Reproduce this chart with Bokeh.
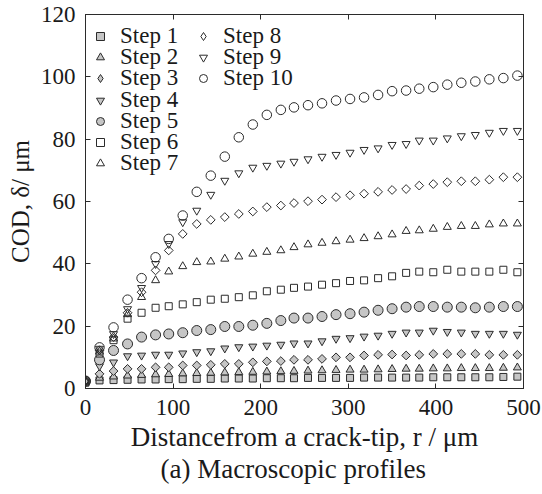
import math
from bokeh.plotting import figure
from bokeh.models import Range1d, LinearAxis, FixedTicker, Legend, LegendItem, Title
from bokeh.embed import file_html
from bokeh.resources import INLINE

# ---- data ----
r_um = [0, 16, 32, 48, 64, 80, 95, 111, 127, 143, 159, 175, 191, 207, 223, 238,
        254, 270, 286, 302, 318, 334, 350, 366, 381, 397, 413, 429, 445, 461, 477, 493]

step1 = [1.9, 2.6, 2.7, 2.8, 2.9, 2.9, 3.0, 3.0, 3.1, 3.1, 3.2, 3.2, 3.2, 3.3, 3.3, 3.3,
         3.4, 3.4, 3.4, 3.4, 3.5, 3.5, 3.5, 3.5, 3.5, 3.6, 3.6, 3.6, 3.6, 3.6, 3.7, 3.8]
step2 = [2.2, 3.4, 3.8, 4.1, 4.3, 4.5, 4.6, 4.8, 4.9, 5.0, 5.1, 5.2, 5.3, 5.4, 5.5, 5.6,
         5.7, 5.8, 5.9, 6.0, 6.0, 6.1, 6.2, 6.3, 6.3, 6.4, 6.4, 6.5, 6.5, 6.5, 6.6, 6.7]
step3 = [2.3, 4.7, 5.6, 6.3, 6.3, 6.8, 6.8, 7.4, 7.4, 7.6, 7.9, 7.9, 8.4, 8.7, 8.8, 9.2,
         9.2, 9.5, 10.0, 10.0, 10.6, 10.8, 10.9, 10.6, 10.8, 11.1, 11.1, 11.1, 11.1, 10.8, 10.8, 10.8]
step4 = [2.3, 7.2, 8.4, 10.4, 10.6, 10.9, 10.9, 11.3, 11.7, 12.0, 12.9, 13.3, 13.5, 13.8, 14.1, 14.5,
         14.5, 15.2, 16.0, 16.2, 16.7, 17.0, 17.6, 18.0, 18.0, 18.6, 18.2, 18.0, 17.6, 17.6, 17.6, 17.3]
step5 = [2.3, 9.2, 12.2, 14.3, 16.5, 17.2, 17.5, 17.9, 18.6, 18.9, 19.9, 19.9, 20.3, 20.9, 21.8, 22.6,
         22.6, 23.1, 23.7, 24.0, 24.5, 25.1, 25.6, 26.1, 26.3, 26.3, 26.1, 26.1, 25.9, 26.1, 26.3, 26.3]
step6 = [2.3, 11.2, 15.5, 22.4, 24.3, 25.9, 26.4, 27.0, 27.7, 28.5, 28.8, 29.3, 29.9, 31.2, 31.7, 32.3,
         32.7, 33.3, 33.8, 34.5, 34.7, 35.4, 36.0, 37.1, 37.5, 37.3, 38.1, 37.5, 37.5, 37.5, 38.1, 37.3]
step7 = [2.3, 11.8, 16.0, 23.8, 29.3, 34.7, 37.5, 39.2, 40.5, 40.7, 41.6, 42.3, 43.2, 43.8, 44.3, 45.3,
         46.2, 46.7, 47.2, 47.7, 48.2, 48.8, 49.4, 50.5, 50.7, 51.2, 51.8, 52.1, 52.1, 52.6, 52.9, 52.9]
step8 = [2.3, 12.3, 16.5, 24.3, 30.9, 37.9, 44.3, 49.6, 52.8, 54.1, 55.0, 56.0, 56.8, 58.2, 58.7, 59.5,
         60.1, 60.6, 61.4, 62.0, 62.5, 63.1, 63.7, 64.0, 65.1, 65.6, 66.2, 66.5, 66.5, 67.0, 67.8, 67.8]
step9 = [2.3, 12.8, 17.5, 25.5, 32.3, 40.0, 46.4, 53.4, 57.1, 62.2, 66.7, 69.1, 70.9, 71.5, 72.2, 72.8,
         73.6, 74.4, 75.0, 75.7, 76.6, 77.1, 78.2, 78.5, 79.6, 79.6, 80.3, 81.0, 81.4, 82.1, 82.7, 82.7]
step10 = [2.5, 13.2, 19.6, 28.5, 35.4, 42.1, 48.0, 55.5, 63.1, 68.3, 74.4, 80.6, 84.7, 87.8, 89.4, 90.2,
          90.9, 91.5, 92.4, 92.9, 93.4, 94.2, 95.4, 95.6, 96.2, 96.7, 97.5, 98.1, 98.5, 99.2, 99.6, 100.4]

labels = ["Step 1", "Step 2", "Step 3", "Step 4", "Step 5",
          "Step 6", "Step 7", "Step 8", "Step 9", "Step 10"]
series = [step1, step2, step3, step4, step5, step6, step7, step8, step9, step10]

x_ticks = [0, 100, 200, 300, 400, 500]
y_ticks = [0, 20, 40, 60, 80, 100, 120]

x_title = "Distancefrom a crack-tip, r / \u03bcm"
y_title = "COD, \u03b4/ \u03bcm"
caption = "(a) Macroscopic profiles"

# ---- styles ----
FONT = "Liberation Serif"
INK = "#2b2b2b"
TXT = "#1a1a1a"
GRAY = "#c6c6c6"
styles = [
    dict(marker="square", legend_marker="square", fill=GRAY, size=7, angle=0.0),
    dict(marker="triangle", legend_marker="triangle", fill=GRAY, size=8, angle=0.0),
    dict(marker="square", legend_marker="diamond", fill=GRAY, size=6.2, angle=math.pi / 4),
    dict(marker="inverted_triangle", legend_marker="inverted_triangle", fill=GRAY, size=8, angle=0.0),
    dict(marker="circle", legend_marker="circle", fill=GRAY, size=10, angle=0.0),
    dict(marker="square", legend_marker="square", fill=None, size=7, angle=0.0),
    dict(marker="triangle", legend_marker="triangle", fill=None, size=8, angle=0.0),
    dict(marker="square", legend_marker="diamond", fill=None, size=6.2, angle=math.pi / 4),
    dict(marker="inverted_triangle", legend_marker="inverted_triangle", fill=None, size=8, angle=0.0),
    dict(marker="circle", legend_marker="circle", fill=None, size=9.5, angle=0.0),
]

p = figure(width=542, height=494, x_range=Range1d(0, 500), y_range=Range1d(0, 120),
           output_backend="svg", toolbar_location=None,
           min_border_left=85, min_border_right=19, min_border_top=14, min_border_bottom=106)
p.grid.visible = False
p.outline_line_color = INK
p.background_fill_color = "white"
p.border_fill_color = "white"

p.xaxis.ticker = FixedTicker(ticks=x_ticks)
p.yaxis.ticker = FixedTicker(ticks=y_ticks)

def style_axis(ax, show_labels):
    ax.axis_line_color = INK
    ax.major_tick_line_color = INK
    ax.major_tick_in = 5
    ax.major_tick_out = 0
    ax.minor_tick_line_color = None
    if show_labels:
        ax.major_label_text_font = FONT
        ax.major_label_text_font_size = "23px"
        ax.major_label_text_font_style = "normal"
        ax.major_label_text_color = TXT
        ax.axis_label_text_font = FONT
        ax.axis_label_text_font_size = "27px"
        ax.axis_label_text_font_style = "normal"
        ax.axis_label_text_color = TXT
    else:
        ax.major_label_text_font_size = "1px"
        ax.major_label_standoff = 0

for ax in p.xaxis:
    style_axis(ax, True)
    ax.major_label_standoff = 11
    ax.axis_label = x_title
    ax.axis_label_standoff = 4
for ax in p.yaxis:
    style_axis(ax, True)
    ax.major_label_standoff = 10
    ax.axis_label = y_title
    ax.axis_label_text_font_size = "25px"
    ax.axis_label_standoff = 4

top = LinearAxis(ticker=FixedTicker(ticks=x_ticks),
                 major_label_overrides={t: "" for t in x_ticks})
style_axis(top, False)
p.add_layout(top, "above")
right = LinearAxis(ticker=FixedTicker(ticks=y_ticks),
                   major_label_overrides={t: "" for t in y_ticks})
style_axis(right, False)
p.add_layout(right, "right")

p.add_layout(Title(text=caption, align="left", offset=75, text_font=FONT, text_font_size="27px",
                   text_font_style="normal", text_color=TXT, standoff=-6), "below")

NAN = float("nan")
legend_renderers = []
for vals, st in zip(series, styles):
    p.scatter(x=r_um, y=vals, marker=st["marker"], size=st["size"], angle=st["angle"],
              fill_color=st["fill"], line_color=INK, line_width=1)
    # placeholder renderer (no drawable point) that only supplies the legend symbol
    lr = p.scatter(x=[NAN], y=[NAN], marker=st["legend_marker"], size=st["size"],
                   fill_color=st["fill"], line_color=INK, line_width=1)
    legend_renderers.append(lr)

# legend: one row per item for tight line spacing
for i, (lab, rend) in enumerate(zip(labels, legend_renderers)):
    col = 0 if i < 7 else 1
    row = i if i < 7 else i - 7
    vx = 5 if col == 0 else 108
    vy = 339 - 21.2 * row
    leg = Legend(items=[LegendItem(label=lab, renderers=[rend])], location=(vx, vy),
                 padding=0, margin=0, spacing=0, border_line_color=None,
                 background_fill_alpha=0, glyph_width=20, glyph_height=20,
                 label_standoff=10, label_height=20,
                 label_text_font=FONT, label_text_font_size="23px",
                 label_text_font_style="normal", label_text_color=TXT)
    p.add_layout(leg)

open("out.html", "w").write(file_html(p, INLINE))
